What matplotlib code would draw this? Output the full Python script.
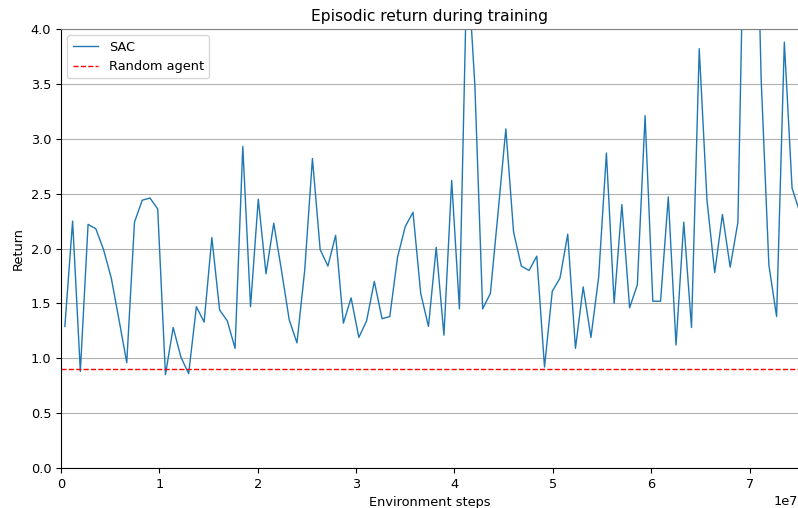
import numpy as np
import matplotlib
matplotlib.use('Agg')
import matplotlib.pyplot as plt

# PARAMS ----------------------------------------------------------------------
plt.rc('font', size=9.3)
plt.rc('axes', titlesize=11.2)
# END PARAMS ------------------------------------------------------------------

# evaluation every 786432 env steps (centre of each block)
step_size = 786432
sac_return = [1.29, 2.25, 0.88, 2.22, 2.18, 1.99, 1.73, 1.35, 0.96, 2.24,
              2.44, 2.46, 2.36, 0.85, 1.28, 1.01, 0.86, 1.47, 1.33, 2.10,
              1.44, 1.34, 1.09, 2.93, 1.47, 2.45, 1.77, 2.23, 1.80, 1.35,
              1.14, 1.80, 2.82, 1.99, 1.84, 2.12, 1.32, 1.55, 1.19, 1.34,
              1.70, 1.36, 1.38, 1.92, 2.20, 2.33, 1.59, 1.29, 2.01, 1.21,
              2.62, 1.45, 4.67, 3.48, 1.45, 1.59, 2.33, 3.09, 2.15, 1.84,
              1.80, 1.93, 0.92, 1.61, 1.73, 2.13, 1.09, 1.65, 1.19, 1.74,
              2.87, 1.50, 2.40, 1.46, 1.67, 3.21, 1.52, 1.52, 2.47, 1.12,
              2.24, 1.28, 3.82, 2.44, 1.78, 2.31, 1.83, 2.24, 5.90, 6.50,
              3.55, 1.85, 1.38, 3.88, 2.55, 2.33]
steps = (np.arange(len(sac_return)) + 0.5) * step_size
random_return = 0.9

fig = plt.figure(figsize=(7.98, 5.08), dpi=100)
ax = fig.add_axes([61/798, 40/508, 737/798, 439/508])

ax.plot(steps, sac_return, color='#1f77b4', lw=1.0, label='SAC')
ax.axhline(random_return, color='red', ls='--', lw=1.0, label='Random agent')

ax.set_xlim(0, 7.492e7)
ax.set_ylim(0, 4.0)
ax.set_yticks(np.arange(0, 4.01, 0.5))
ax.yaxis.grid(True)
ax.set_axisbelow(True)
# right edge of the plot is cut off in the original
ax.spines['right'].set_visible(False)
ax.spines['top'].set_color('#808080')

ax.set_title('Episodic return during training')
ax.set_xlabel('Environment steps')
ax.set_ylabel('Return')
ax.legend(loc='upper left')

fig.savefig('out.png', dpi=100)
